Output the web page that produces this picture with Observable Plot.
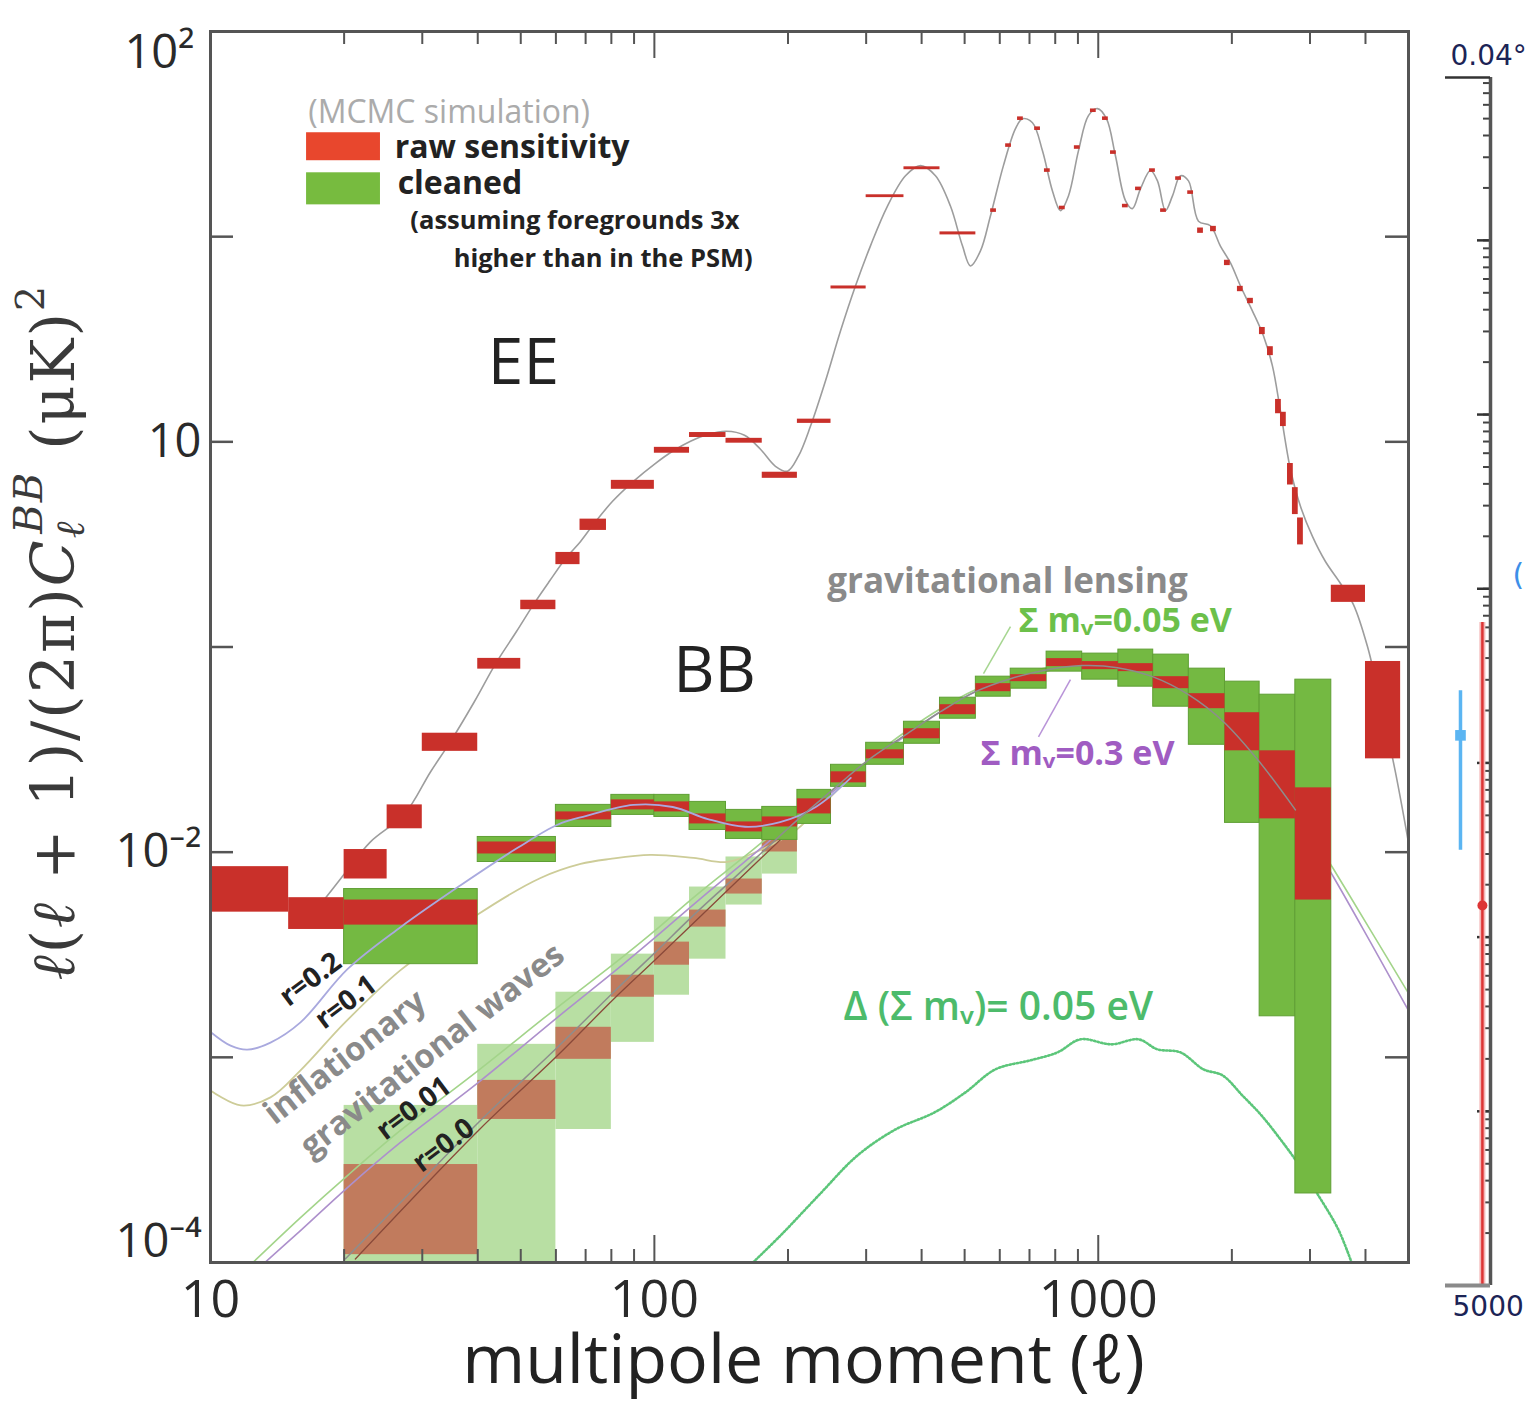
<!DOCTYPE html>
<html>
<head>
<meta charset="utf-8">
<script src="https://cdn.jsdelivr.net/npm/d3@7"></script>
<script src="https://cdn.jsdelivr.net/npm/@observablehq/plot@0.6"></script>
<style>
  body { margin: 0; background: #fff; }
  #wrap { position: relative; width: 1530px; height: 1404px; overflow: hidden; }
  #main, #strip { position: absolute; top: 0; }
  #main { left: 0; }
  #strip { left: 1410px; }
  svg { max-width: none !important; }
</style>
</head>
<body>
<div id="wrap"><div id="main"></div><div id="strip"></div></div>
<script>
// ---------------- DATA ----------------
// EE raw-sensitivity band powers: [l1, l2, lo, hi]
const eeBoxes = [
  [10, 15, 0.0051, 0.0085], [15, 20, 0.0042, 0.0060], [20, 25, 0.0074, 0.0103],
  [25, 30, 0.013, 0.017], [30, 40, 0.031, 0.038], [40, 50, 0.078, 0.088],
  [50, 60, 0.152, 0.169], [60, 68, 0.252, 0.289], [68, 78, 0.37, 0.42],
  [80, 100, 0.587, 0.649], [100, 120, 0.88, 0.94], [120, 145, 1.05, 1.11],
  [145, 175, 0.985, 1.04], [175, 210, 0.664, 0.711], [210, 250, 1.23, 1.29],
  [250, 300, 5.56, 5.75], [300, 365, 15.5, 16.0], [365, 440, 21.2, 21.9],
  [440, 530, 10.2, 10.55], [3350, 4000, 0.165, 0.20], [4000, 4800, 0.0285, 0.085]
];
// fine-binned EE points at high multipoles: [l, value, fractional error]
const eeFine = [
  [581, 13.4, 0.02], [628, 27.8, 0.02], [668, 37.6, 0.02], [730, 33.6, 0.02], [768, 21.0, 0.02],
  [830, 13.8, 0.02], [897, 27.2, 0.02], [975, 41.1, 0.02], [1038, 37.6, 0.02], [1082, 25.7, 0.02],
  [1151, 14.1, 0.02], [1232, 17.1, 0.02], [1325, 21.0, 0.02], [1403, 13.4, 0.02], [1517, 19.2, 0.02],
  [1615, 16.4, 0.02], [1700, 10.7, 0.03], [1818, 10.9, 0.03], [1954, 7.45, 0.03], [2090, 5.56, 0.03],
  [2203, 4.86, 0.03], [2343, 3.47, 0.04], [2443, 2.77, 0.05], [2547, 1.49, 0.08], [2613, 1.29, 0.08],
  [2710, 0.70, 0.12], [2780, 0.52, 0.15], [2855, 0.37, 0.15]
];
// EE theory curve [l, value]
const eeTheory = [
  [17.5,0.0054],[20.0,0.0078],[22.9,0.0112],[27.4,0.0154],[31.3,0.0246],[34.7,0.0345],[39.3,0.0541],
  [43.9,0.083],[48.9,0.119],[53.4,0.161],[58.0,0.209],[63.1,0.270],[68.2,0.327],[72.9,0.396],
  [80.5,0.513],[89.7,0.642],[100.6,0.786],[109.9,0.900],[120.6,1.007],[132.4,1.089],[145.3,1.126],
  [159.6,1.077],[173.4,0.920],[187.4,0.760],[199.4,0.719],[211.1,0.851],[224.7,1.19],[242.9,1.98],
  [262.6,3.47],[283.8,5.75],[306.8,9.02],[335.1,14.1],[367.9,19.8],[397.7,22.2],[429.8,19.8],
  [464.5,14.1],[494.4,9.02],[515.4,7.20],[542.8,8.52],[571.6,12.6],[611.5,22.2],[650.9,33.6],
  [675.0,37.6],[710.9,35.9],[748.8,26.2],[788.6,16.7],[821.9,13.4],[856.8,15.8],[902.4,26.2],
  [950.5,38.9],[995.8,42.1],[1043.5,37.6],[1093.3,24.8],[1151.7,15.0],[1194.0,13.7],[1244.7,17.1],
  [1311.0,21.0],[1359.6,18.7],[1417.3,13.4],[1469.8,15.8],[1532.1,19.8],[1597.0,18.7],[1681.9,11.9],
  [1789.4,11.3],[1884.6,9.0],[1985.6,7.45],[2091.3,5.75],[2225.9,4.34],[2356.8,3.28],[2469.1,2.34],
  [2573.6,1.41],[2710.3,0.735],[2854.6,0.485],[3037.8,0.346],[3249.4,0.261],[3513.6,0.204],
  [3757.9,0.161],[4041.7,0.1005],[4322.0,0.0541],[4671.1,0.0246],[4997,0.0112]
];
// BB band powers (bin edges, cleaned and raw ranges)
const bbEdges = [20,40,60,80,100,120,145,175,210,250,300,365,440,530,635,765,920,1110,1330,1600,1930,2310,2780,3350];
const bbCleanLo = [0.002845,0.008955,0.01327,0.01519,0.01485,0.01283,0.0116,0.01147,0.01373,0.02082,0.02666,0.03375,0.04471,0.05725,0.06264,0.07585,0.06931,0.06407,0.05117,0.03337,0.01389,0.001585,0.000217];
const bbCleanHi = [0.00661,0.01186,0.0170,0.01902,0.01902,0.01758,0.01607,0.01662,0.02012,0.02666,0.03413,0.04322,0.05661,0.07168,0.07843,0.09495,0.09285,0.09712,0.09181,0.07843,0.06778,0.05855,0.06931];
const bbRawLo = [0.004411,0.0098,0.01436,0.01607,0.01571,0.01373,0.01255,0.01327,0.01536,0.02177,0.02851,0.0357,0.04677,0.06056,0.06778,0.08024,0.07755,0.07585,0.06264,0.05003,0.03119,0.01453,0.005843];
const bbRawHi = [0.005843,0.01121,0.01571,0.01798,0.01758,0.01536,0.01404,0.01485,0.01819,0.02464,0.03155,0.03996,0.05233,0.06627,0.0733,0.08777,0.08488,0.08295,0.07168,0.05922,0.04783,0.03119,0.02058];
// low-amplitude (r = 0) band powers
const lowEdges = [20,40,60,80,100,120,145,175,210];
const lowCleanLo = [5e-5,5e-5,4.45e-4,1.183e-3,2.008e-3,3.009e-3,5.524e-3,7.82e-3];
const lowCleanHi = [5.83e-4,1.157e-3,2.077e-3,3.184e-3,4.826e-3,6.761e-3,9.475e-3,0.01186];
const lowRawLo = [1.092e-4,4.98e-4,9.78e-4,1.963e-3,2.812e-3,4.313e-3,6.25e-3,0.01002];
const lowRawHi = [3.003e-4,7.72e-4,1.401e-3,2.514e-3,3.644e-3,5.221e-3,7.397e-3,0.01147];
// BB theory curves [l, value]
const bbR02 = [[10,1.33e-3],[11.1,1.14e-3],[12.1,1.09e-3],[13.65,1.18e-3],[15.95,1.48e-3],[20.35,2.69e-3],[26.8,4.31e-3],[36.6,6.9e-3],[49.2,0.0105],[60.5,0.0136],[70,0.0150],[89.7,0.0170],[110,0.0166],[132,0.0145],[160,0.0133],[192,0.0140],[231,0.0166],[277,0.0230]];
const bbR01 = [[10,6.9e-4],[11.7,5.83e-4],[13.65,6.38e-4],[15.95,8.64e-4],[20.1,1.48e-3],[26.8,2.66e-3],[36.6,4.31e-3],[40.15,4.99e-3],[55.4,7.48e-3],[68.2,8.76e-3],[79.6,9.27e-3],[98,9.69e-3],[122.5,9.37e-3],[146.1,8.96e-3],[173.4,0.01025],[205.8,0.01255],[230.7,0.01571],[262.6,0.02082]];
const bbMnu005 = [[12.31,9.75e-5],[15.95,1.655e-4],[20.35,2.653e-4],[26.79,4.40e-4],[40.15,8.64e-4],[60.5,1.754e-3],[80.9,2.845e-3],[100.6,4.169e-3],[120.6,5.843e-3],[146.1,8.18e-3],[175.2,0.01121],[210.1,0.01536],[251.9,0.02012],[303.6,0.02818],[367.9,0.03862],[441.1,0.05003],[528.9,0.06194],[634.2,0.07168],[768.6,0.07932],[921.3,0.08488],[1104.8,0.08295],[1324.6,0.07413],[1597,0.06056],[1915,0.04522],[2307,0.02915],[2781,0.01662],[3388,8.28e-3],[4104,4.17e-3],[4997,2.054e-3]];
const bbMnu03 = [[13.09,9.75e-5],[15.95,1.43e-4],[20.35,2.318e-4],[26.79,3.846e-4],[40.15,7.55e-4],[60.5,1.568e-3],[80.9,2.6e-3],[100.6,3.854e-3],[120.6,5.40e-3],[146.1,7.65e-3],[175.2,0.0106],[210.1,0.01485],[251.9,0.01967],[303.6,0.02756],[367.9,0.03693],[441.1,0.04837],[528.9,0.06056],[634.2,0.06931],[768.6,0.07668],[921.3,0.08024],[1104.8,0.07843],[1324.6,0.07009],[1597,0.05725],[1915,0.04227],[2307,0.02696],[2781,0.01536],[3388,7.57e-3],[4104,3.644e-3],[4997,1.696e-3]];
const bbLensing = [[20.14,1.044e-4],[26.79,1.959e-4],[40.15,4.815e-4],[60.5,1.119e-3],[80.9,2.077e-3],[100.6,3.257e-3],[120.6,4.772e-3],[146.1,6.99e-3],[175.2,0.01002],[210.1,0.01436],[251.9,0.02012],[303.6,0.02818],[367.9,0.03735],[441.1,0.04837],[528.9,0.06056],[634.2,0.07009],[768.6,0.07755],[921.3,0.08114],[1104.8,0.07932],[1324.6,0.07168],[1597,0.05855],[1915,0.04322],[2307,0.02756],[2781,0.01607]];
const bbR00 = [[21.2,1.04e-4],[40.15,4.4e-4],[60.5,1.02e-3],[80.9,1.92e-3],[100.6,3.0e-3],[146,6.5e-3],[210,0.0138]];
// Delta(sum m_nu) = 0.05 eV difference curve
const dMnu = [[164.7,9.75e-5],[192.3,1.352e-4],[234.3,2.12e-4],[286.8,3.323e-4],[349.3,4.45e-4],[427.6,5.39e-4],[502.2,6.75e-4],[586.7,8.74e-4],[703.6,9.67e-4],[809.4,1.057e-3],[912,1.224e-3],[1070.7,1.157e-3],[1232.1,1.224e-3],[1359.6,1.094e-3],[1532.1,1.057e-3],[1725.8,8.74e-4],[1905,8.17e-4],[2112,6.52e-4],[2332,5.21e-4],[2574,3.98e-4],[2840,2.97e-4],[3134,2.12e-4],[3476,1.446e-4],[3737,9.75e-5]];
// ticks and labels
const xMajorTicks = [10, 100, 1000];
const xMinorTicks = [20,30,40,50,60,70,80,90,200,300,400,500,600,700,800,900,2000,3000,4000];
const xTickLabels = ["10", "100", "1000"];
const yDecades = [1e-4, 1e-3, 1e-2, 0.1, 1, 10, 100];
const yTickValues = [100, 1, 0.01, 1e-4];
const yTickLabels = ["10²", "10", "10⁻²", "10⁻⁴"];
// annotations anchored at (l, value)
const notes = [
  {t: "(MCMC simulation)", l: 16.6, v: 40.2},
  {t: "raw sensitivity", l: 26.0, v: 27.15},
  {t: "cleaned", l: 26.4, v: 18.1},
  {t: "(assuming foregrounds 3x", l: 28.2, v: 11.94},
  {t: "higher than in the PSM)", l: 35.3, v: 7.79},
  {t: "EE", l: 50.7, v: 2.42},
  {t: "BB", l: 136.6, v: 0.0759},
  {t: "gravitational lensing", l: 624.5, v: 0.2086},
  {t: "Σ mᵥ=0.05 eV", l: 661, v: 0.133},
  {t: "Σ mᵥ=0.3 eV", l: 542.8, v: 0.0302},
  {t: "Δ (Σ mᵥ)= 0.05 eV", l: 266.7, v: 1.754e-3}
];
const rotNotes = [
  {t: "r=0.2", l: 16.8, v: 2.40e-3},
  {t: "r=0.1", l: 20.2, v: 1.856e-3},
  {t: "inflationary", l: 20.1, v: 1.0e-3},
  {t: "gravitational waves", l: 31.6, v: 1.08e-3},
  {t: "r=0.01", l: 28.7, v: 5.64e-4},
  {t: "r=0.0", l: 33.5, v: 3.72e-4}
];
const legendKeys = [
  {key: "raw sensitivity", l1: 16.46, l2: 24.15, lo: 23.45, hi: 32.1},
  {key: "cleaned", l1: 16.46, l2: 24.15, lo: 14.29, hi: 20.48}
];
const pointerLines = [
  {key: "0.05", l1: 634.2, v1: 0.1258, l2: 551.4, v2: 0.0741},
  {key: "0.3", l1: 865.7, v1: 0.0693, l2: 733.5, v2: 0.0365}
];
// right-hand cropped panel
const stripTop = 8.61, stripBottom = 1e-6;
const stripMajors = [1, 0.1, 0.01, 1e-3, 1e-4, 1e-5, 1e-6];
const stripRed = [{x: 0.82, y1: 6.4e-3, y2: 1e-6}];
const stripRedPt = [{x: 0.82, y: 1.52e-4}];
const stripBlue = [{x: 0.333, y1: 2.6e-3, y2: 3.15e-4}];
const stripBluePt = [{x: 0.333, y: 1.44e-3}];

// ---------------- BUILD ----------------
const W = 1530, H = 1404, mL = 210, mR = 122, mT = 31, mB = 142;
const FW = W - mL - mR, FH = H - mT - mB;
const RED = "#c9302a", GREEN = "#74b942", LGREEN = "#b8dfa3", BROWN = "#c17b5d";

const bbBoxes = bbCleanLo.map((_, i) => ({l1: bbEdges[i], l2: bbEdges[i + 1], clo: bbCleanLo[i], chi: bbCleanHi[i], rlo: bbRawLo[i], rhi: bbRawHi[i]}));
const lowBoxes = lowCleanLo.map((_, i) => ({l1: lowEdges[i], l2: lowEdges[i + 1], clo: lowCleanLo[i], chi: lowCleanHi[i], rlo: lowRawLo[i], rhi: lowRawHi[i]}));
const eeRows = eeBoxes.map(([l1, l2, lo, hi]) => ({l1, l2, lo, hi}));
const yLab = yTickValues.map((v, i) => ({v, t: yTickLabels[i]}));
const xLab = xMajorTicks.map((v, i) => ({v, t: xTickLabels[i]}));
const pick = (...keys) => d => keys.includes(d.t);
const L = d => d[0], V = d => d[1];

const txt = (filter, o) => Plot.text(notes, {filter: pick(...filter), x: "l", y: "v", text: "t", ...o});

const chart = Plot.plot({
  width: W, height: H, marginLeft: mL, marginRight: mR, marginTop: mT, marginBottom: mB,
  x: {type: "log", domain: [10, 5000], axis: null},
  y: {type: "log", domain: [1e-4, 100], axis: null},
  style: {fontFamily: "'Open Sans', 'Noto Sans', sans-serif", background: "transparent", overflow: "visible", color: "#333"},
  marks: [
    // low amplitude (r=0) boxes
    Plot.rect(lowBoxes, {x1: "l1", x2: "l2", y1: "clo", y2: "chi", fill: LGREEN, clip: true}),
    Plot.rect(lowBoxes, {x1: "l1", x2: "l2", y1: "rlo", y2: "rhi", fill: BROWN, clip: true}),
    // theory curves
    Plot.line(eeTheory, {x: L, y: V, stroke: "#9d9d9d", strokeWidth: 1.6, curve: "catmull-rom", clip: true}),
    Plot.line(bbR01, {x: L, y: V, stroke: "#cdcc98", strokeWidth: 1.8, curve: "catmull-rom", clip: true}),
    Plot.line(bbMnu005, {x: L, y: V, stroke: "#a3d48a", strokeWidth: 1.6, curve: "catmull-rom", clip: true}),
    Plot.line(bbMnu03, {x: L, y: V, stroke: "#ad90cc", strokeWidth: 1.6, curve: "catmull-rom", clip: true}),
    Plot.line(bbR00, {x: L, y: V, stroke: "#8a4a3a", strokeWidth: 1.3, curve: "catmull-rom", clip: true}),
    Plot.line(dMnu, {x: L, y: V, stroke: "#5cc67a", strokeWidth: 2.6, strokeDasharray: "1.4,2.2", curve: "catmull-rom", clip: true}),
    // main BB boxes
    Plot.rect(bbBoxes, {x1: "l1", x2: "l2", y1: "clo", y2: "chi", fill: GREEN, stroke: "#5f9f34", strokeWidth: 1, clip: true}),
    Plot.rect(bbBoxes, {x1: "l1", x2: "l2", y1: "rlo", y2: "rhi", fill: RED, clip: true}),
    Plot.line(bbR02, {x: L, y: V, stroke: "#a9a9de", strokeWidth: 1.8, curve: "catmull-rom", clip: true}),
    Plot.line(bbLensing, {x: L, y: V, stroke: "#8d8d8d", strokeWidth: 1.5, curve: "catmull-rom", clip: true}),
    // EE boxes
    Plot.rect(eeRows, {x1: "l1", x2: "l2", y1: "lo", y2: "hi", fill: RED, clip: true}),
    Plot.rect(eeFine, {x1: d => d[0] * 0.985, x2: d => d[0] * 1.015, y1: d => d[1] * (1 - d[2]), y2: d => d[1] * (1 + d[2]), fill: RED, clip: true}),
    // legend
    Plot.rect(legendKeys, {filter: d => d.key === "raw sensitivity", x1: "l1", x2: "l2", y1: "lo", y2: "hi", fill: "#e8472d"}),
    Plot.rect(legendKeys, {filter: d => d.key === "cleaned", x1: "l1", x2: "l2", y1: "lo", y2: "hi", fill: "#77bb3f"}),
    // pointer lines
    Plot.link(pointerLines, {filter: d => d.key === "0.05", x1: "l1", y1: "v1", x2: "l2", y2: "v2", stroke: "#a6d690", strokeWidth: 1.5}),
    Plot.link(pointerLines, {filter: d => d.key === "0.3", x1: "l1", y1: "v1", x2: "l2", y2: "v2", stroke: "#b994d8", strokeWidth: 1.5}),
    // annotations
    txt(["(MCMC simulation)"], {textAnchor: "start", fontSize: 32, fill: "#ababab"}),
    txt(["raw sensitivity", "cleaned"], {textAnchor: "start", fontSize: 32, fontWeight: 700, fill: "#222"}),
    txt(["(assuming foregrounds 3x", "higher than in the PSM)"], {textAnchor: "start", fontSize: 25.5, fontWeight: 700, fill: "#222"}),
    txt(["EE", "BB"], {textAnchor: "middle", fontSize: 64, fill: "#222"}),
    txt(["gravitational lensing"], {textAnchor: "middle", fontSize: 35, fontWeight: 700, fill: "#8a8a8a"}),
    txt(["Σ mᵥ=0.05 eV"], {textAnchor: "start", fontSize: 34, fontWeight: 700, fill: "#6cc04a"}),
    txt(["Σ mᵥ=0.3 eV"], {textAnchor: "start", fontSize: 34, fontWeight: 700, fill: "#a05cc2"}),
    txt(["Δ (Σ mᵥ)= 0.05 eV"], {textAnchor: "start", fontSize: 39, fontWeight: 600, fill: "#4dbb6b"}),
    Plot.text(rotNotes, {filter: d => d.t.startsWith("r="), x: "l", y: "v", text: "t", rotate: -37, fontSize: 28, fontWeight: 700, fill: "#222"}),
    Plot.text(rotNotes, {filter: d => !d.t.startsWith("r="), x: "l", y: "v", text: "t", rotate: -38, fontSize: 33, fontWeight: 700, fill: "#8a8a8a"}),
    // frame and ticks
    Plot.frame({stroke: "#555", strokeWidth: 3}),
    Plot.tickX(xMinorTicks, {x: d => d, insetTop: FH - 13, stroke: "#555", strokeWidth: 2}),
    Plot.tickX(xMajorTicks, {x: d => d, insetTop: FH - 27, stroke: "#555", strokeWidth: 2}),
    Plot.tickX(xMinorTicks, {x: d => d, insetBottom: FH - 13, stroke: "#555", strokeWidth: 2}),
    Plot.tickX(xMajorTicks, {x: d => d, insetBottom: FH - 27, stroke: "#555", strokeWidth: 2}),
    Plot.tickY(yDecades, {y: d => d, insetRight: FW - 23, stroke: "#555", strokeWidth: 2.5}),
    Plot.tickY(yDecades, {y: d => d, insetLeft: FW - 23, stroke: "#555", strokeWidth: 2.5}),
    // tick labels
    Plot.text(xLab, {x: "v", text: "t", frameAnchor: "bottom", dy: 54, fontSize: 52, fill: "#2a2a2a"}),
    Plot.text(yLab, {filter: d => d.v === 100, y: "v", text: "t", frameAnchor: "left", dx: -16, dy: 21, textAnchor: "end", fontSize: 47, fill: "#2a2a2a"}),
    Plot.text(yLab, {filter: d => d.v === 1 || d.v === 0.01, y: "v", text: "t", frameAnchor: "left", dx: -9, textAnchor: "end", fontSize: 47, fill: "#2a2a2a"}),
    Plot.text(yLab, {filter: d => d.v === 1e-4, y: "v", text: "t", frameAnchor: "left", dx: -9, dy: -21, textAnchor: "end", fontSize: 47, fill: "#2a2a2a"}),
    Plot.text(["multipole moment (ℓ)"], {frameAnchor: "bottom", dy: 120, dx: -6, fontSize: 68, fill: "#222"})
  ]
});

// y-axis title with sub/superscripts
const yt = d3.select(chart).append("text")
  .attr("transform", "translate(58,632) rotate(-90)")
  .attr("text-anchor", "middle")
  .attr("dominant-baseline", "middle")
  .attr("fill", "#3a3a3a")
  .style("font-family", "'DejaVu Serif','Liberation Serif',serif")
  .style("font-size", "60px")
  .style("letter-spacing", "2px");
yt.append("tspan").style("font-style", "italic").text("ℓ");
yt.append("tspan").text("(");
yt.append("tspan").style("font-style", "italic").text("ℓ");
yt.append("tspan").text(" + 1)/(2π)");
yt.append("tspan").style("font-style", "italic").text("C");
yt.append("tspan").style("font-style", "italic").style("font-size", "40px").attr("dy", 16).text("ℓ");
yt.append("tspan").style("font-style", "italic").style("font-size", "40px").attr("dx", -14).attr("dy", -42).text("BB");
yt.append("tspan").attr("dy", 26).text(" (μK)");
yt.append("tspan").style("font-size", "40px").attr("dy", -24).text("2");

document.getElementById("main").appendChild(chart);

// ---------------- right cropped panel ----------------
const stripTicks = d3.scaleLog().domain([stripBottom, stripTop]).ticks();
const strip = Plot.plot({
  width: 120, height: 1404, marginLeft: 35, marginRight: 40, marginTop: 77, marginBottom: 119,
  x: {domain: [0, 1], axis: null},
  y: {type: "log", domain: [stripBottom, stripTop], axis: null},
  style: {fontFamily: "'DejaVu Sans', sans-serif", background: "transparent", overflow: "visible"},
  marks: [
    Plot.tickY(stripTicks, {y: d => d, insetLeft: 45 - 7, stroke: "#444", strokeWidth: 2}),
    Plot.tickY(stripMajors, {y: d => d, insetLeft: 45 - 13, stroke: "#333", strokeWidth: 2.5}),
    Plot.ruleX(stripRed, {x: "x", y1: "y1", y2: "y2", stroke: "#f4b8b8", strokeWidth: 6}),
    Plot.ruleX(stripRed, {x: "x", y1: "y1", y2: "y2", stroke: "#dd3535", strokeWidth: 2.5}),
    Plot.dot(stripRedPt, {x: "x", y: "y", r: 5, fill: "#dd3535"}),
    Plot.ruleX(stripBlue, {x: "x", y1: "y1", y2: "y2", stroke: "#5bb5f2", strokeWidth: 3.5}),
    Plot.dot(stripBluePt, {x: "x", y: "y", symbol: "square", r: 6, fill: "#5bb5f2"}),
    Plot.ruleX([1], {stroke: "#555", strokeWidth: 3.5}),
    Plot.ruleY([stripTop], {stroke: "#333", strokeWidth: 2.5}),
    Plot.ruleY([stripBottom], {stroke: "#8a8a8a", strokeWidth: 4}),
    Plot.text(["0.04°"], {frameAnchor: "top-left", dx: 5, dy: -32, textAnchor: "start", fontSize: 28, fill: "#1c2456"}),
    Plot.text(["5000"], {frameAnchor: "bottom-left", dx: 7, dy: 30, textAnchor: "start", fontSize: 28, fill: "#1c2456"}),
    Plot.text(["("], {x: [1.62], y: [0.0119], fontSize: 30, fill: "#3d8fe8"})
  ]
});
document.getElementById("strip").appendChild(strip);
</script>
</body>
</html>
